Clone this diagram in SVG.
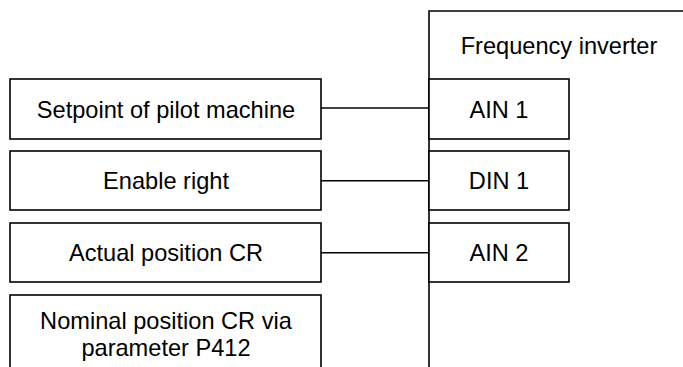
<svg xmlns="http://www.w3.org/2000/svg" width="683" height="367" viewBox="0 0 683 367">
<style>
.b{fill:#fff;stroke:#000;stroke-width:1.6}
.l{fill:none;stroke:#000;stroke-width:1.6}
text{font-family:"Liberation Sans",Arial,sans-serif;font-size:23.6px;fill:#000;text-anchor:middle}
</style>
<rect width="683" height="367" fill="#fff"/>
<g id="inverter">
<path class="l" d="M429,372 V11 H690"/>
<text x="559" y="54">Frequency inverter</text>
</g>
<g id="ain1"><rect class="b" x="429" y="79" width="140" height="60"/><text x="499" y="117.5">AIN 1</text></g>
<g id="din1"><rect class="b" x="429" y="151" width="140" height="59"/><text x="499" y="189">DIN 1</text></g>
<g id="ain2"><rect class="b" x="429" y="223" width="140" height="59"/><text x="499" y="261">AIN 2</text></g>
<g id="setpoint"><rect class="b" x="10" y="79" width="311" height="60"/><text x="166" y="117.5">Setpoint of pilot machine</text></g>
<g id="enable"><rect class="b" x="10" y="151" width="311" height="59"/><text x="166" y="189">Enable right</text></g>
<g id="actual"><rect class="b" x="10" y="223" width="311" height="59"/><text x="166" y="261">Actual position CR</text></g>
<g id="nominal"><rect class="b" x="10" y="295" width="311" height="90"/><text x="166" y="329">Nominal position CR via</text><text x="166" y="355.5">parameter P412</text></g>
<g id="connectors">
<line class="l" x1="321" y1="108" x2="429" y2="108"/>
<line class="l" x1="321" y1="180.7" x2="429" y2="180.7"/>
<line class="l" x1="321" y1="252.7" x2="429" y2="252.7"/>
</g>
</svg>
